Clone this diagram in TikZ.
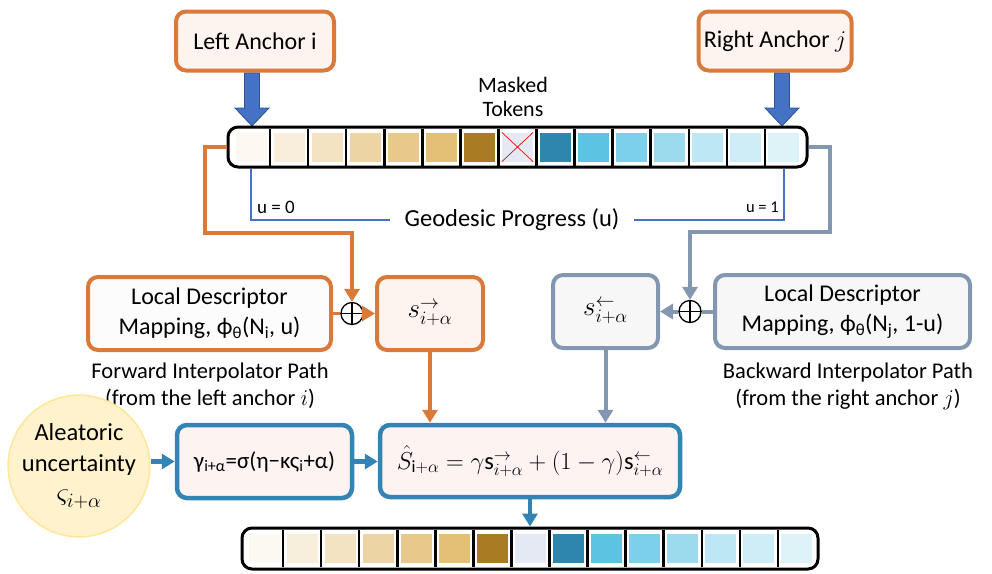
\documentclass[tikz,border=0pt]{standalone}
\usepackage{fix-cm}
\usepackage{fontspec}
\setmainfont{Carlito}
\usetikzlibrary{arrows.meta}
\definecolor{org}{HTML}{D9793A}
\definecolor{orgfill}{HTML}{FDF3EF}
\definecolor{gry}{HTML}{8497B0}
\definecolor{gryfill}{HTML}{F7F7F7}
\definecolor{tea}{HTML}{3284B4}
\definecolor{teafill}{HTML}{FDF4F2}
\definecolor{arrblue}{HTML}{4472C4}
\definecolor{arrblued}{HTML}{2F528F}
\definecolor{circfill}{HTML}{FFF2CC}
\definecolor{circline}{HTML}{FFE699}
\definecolor{thinblue}{HTML}{4472C4}
\begin{document}
\begin{tikzpicture}[x=1pt,y=-1pt,
  obox/.style={draw=org, line width=4pt, rounded corners=10pt, fill=orgfill, inner sep=0pt, align=center},
  gbox/.style={draw=gry, line width=4pt, rounded corners=10pt, fill=gryfill, inner sep=0pt, align=center},
  tbox/.style={draw=tea, line width=4.5pt, rounded corners=10pt, fill=teafill, inner sep=0pt, align=center},
  barbox/.style={draw=black, line width=3pt, rounded corners=10pt, inner sep=0pt},
  cell/.style={minimum width=31pt, minimum height=29pt, inner sep=0pt},
  sepline/.style={line width=2.5pt},
  plusnode/.style={circle, draw=black, fill=white, line width=1.3pt, minimum size=22pt, inner sep=0pt},
  tip/.style={-{Triangle[width=15pt,length=13pt]}},
  oline/.style={draw=org, line width=3.5pt},
  gline/.style={draw=gry, line width=4pt},
  tline/.style={draw=tea, line width=4.5pt},
  bline/.style={draw=thinblue, line width=2pt},
  pics/downarr/.style={code={\draw[draw=arrblued, fill=arrblue, line width=0.8pt]
     (-7.5,0) -- (-7.5,35) -- (-17,35) -- (0,53) -- (17,35) -- (7.5,35) -- (7.5,0) -- cycle;}}
]
\useasboundingbox (0,0) rectangle (992,573);

% anchors
\node[obox, font=\fontsize{24}{28}\selectfont, minimum width=158pt, minimum height=59pt] (la) at (255,41) {Left Anchor i};
\node[obox, font=\fontsize{24}{28}\selectfont, minimum width=153pt, minimum height=59pt] (ra) at (775,41) {Right Anchor $j$};
\pic at (252,73) {downarr};
\pic at (782,73) {downarr};

\node[align=center, font=\fontsize{22}{24}\selectfont] (mt) at (513,97) {Masked\\Tokens};

% top bar
\node[barbox, minimum width=579pt, minimum height=40pt] (topbar) at (517.5,147) {};
\foreach \c [count=\k from 0] in {FDF8F1,F8EEDB,F4E3C3,EDD4A4,E8C98B,E4BF76,A97B22,E4EAF4,2E85AE,5CC3E3,7DD0EB,9CDBEE,BDE7F4,CEEDF6,DEF3F8}{
  \definecolor{tmpc}{HTML}{\c}
  \node[cell, fill=tmpc] (t\k) at ({251+\k*38.07},147) {};
}
\foreach \k in {0,...,13}{
  \draw[sepline] ({251+(\k+0.5)*38.07},128.5) -- ({251+(\k+0.5)*38.07},165.5);
}
\draw[red, line width=0.7pt] (t7.north west) -- (t7.south east) (t7.north east) -- (t7.south west);

% geodesic progress
\node[font=\fontsize{24.5}{28}\selectfont, inner sep=14pt] (geo) at (512,220) {Geodesic Progress (u)};
\draw[bline] (t0.center |- topbar.south) -- (t0.center |- geo.west) -- (geo.west);
\draw[bline] (t14.center |- topbar.south) -- (t14.center |- geo.east) -- (geo.east);
\node[font=\fontsize{19}{22}\selectfont, anchor=west, inner sep=0pt] (u0) at (257,207) {u = 0};
\node[font=\fontsize{16.5}{20}\selectfont, anchor=east, inner sep=0pt] (u1) at (779,207) {u = 1};

% forward path
\node[obox, fill=white!98!gray, font=\fontsize{24}{30}\selectfont, minimum width=243pt, minimum height=73pt] (ld1) at (209.5,313.5) {Local Descriptor\\Mapping, ϕ\textsubscript{θ}(N\textsubscript{i}, u)};
\node[plusnode] (pf) at (352,313.5) {};
\draw[line width=1.3pt] (pf.north) -- (pf.south) (pf.west) -- (pf.east);
\node[obox, minimum width=106pt, minimum height=73pt, font=\fontsize{27}{30}\selectfont] (sf) at (430,313.5) {$s^{\rightarrow}_{i+\alpha}$};
\draw[oline] (ld1.east) -- (pf.west);
\draw[oline, tip] (pf.east) -- (sf.west);
\draw[oline, tip] (topbar.west) -- (205,147) -- (205,233) -- (pf.north |- 0,233) -- (pf.north);
\node[align=center, font=\fontsize{22.5}{27}\selectfont] (fwd) at (210,386) {Forward Interpolator Path\\(from the left anchor $i$)};

% backward path
\node[gbox, font=\fontsize{24}{30}\selectfont, minimum width=255pt, minimum height=73pt] (ld2) at (842.5,311.5) {Local Descriptor\\Mapping, ϕ\textsubscript{θ}(N\textsubscript{j}, 1-u)};
\node[plusnode] (pb) at (690,311.5) {};
\draw[line width=1.3pt] (pb.north) -- (pb.south) (pb.west) -- (pb.east);
\node[gbox, minimum width=105pt, minimum height=73pt, font=\fontsize{27}{30}\selectfont] (sb) at (605.5,311.5) {$s^{\leftarrow}_{i+\alpha}$};
\draw[gline] (ld2.west) -- (pb.east);
\draw[gline, tip] (pb.west) -- (sb.east);
\draw[gline, tip] (topbar.east) -- (830,147) -- (830,232) -- (pb.north |- 0,232) -- (pb.north);
\node[align=center, font=\fontsize{22.5}{27}\selectfont] (bwd) at (848,386) {Backward Interpolator Path\\(from the right anchor $j$)};

% bottom row
\node[circle, fill=circfill, draw=circline, line width=1.5pt, minimum size=132pt, inner sep=0pt, align=center, font=\fontsize{24.5}{31}\selectfont] (circ) at (79,466) {Aleatoric\\uncertainty\\{\fontsize{29}{31}\selectfont$\varsigma_{i+\alpha}$}};
\node[tbox, minimum width=175pt, minimum height=73pt, font=\fontsize{23}{28}\selectfont] (gam) at (264.5,461.5) {γ\textsubscript{i+α}=σ(η−κς\textsubscript{i}+α)};
\node[tbox, minimum width=300pt, minimum height=72pt, font=\fontsize{24.5}{28}\selectfont] (eq) at (530,461) {$\hat{S}_{\mathrm{i+\alpha}} = \gamma\mathrm{s}^{\rightarrow}_{i+\alpha} + (1-\gamma)\mathrm{s}^{\leftarrow}_{i+\alpha}$};
\draw[tline, tip] (gam.west -| circ.east) -- (gam.west);
\draw[tline, tip] (gam.east) -- (gam.east -| eq.west);
\draw[oline, tip] (sf.south) -- (sf.south |- eq.north);
\draw[gline, tip] (sb.south) -- (sb.south |- eq.north);

\node[barbox, minimum width=576pt, minimum height=41pt] (botbar) at (530,548.5) {};
\draw[tline, tip] (eq.south) -- (botbar.north);
\foreach \c [count=\k from 0] in {FCF8F2,F7EEDB,F3E3C3,EDD4A4,E8C98B,E4BF76,A97B22,E4E9F3,2E85AE,5CC3E3,7DD0EB,9CDBEE,BDE7F4,CEEDF6,DEF3F8}{
  \definecolor{tmpc}{HTML}{\c}
  \node[cell, fill=tmpc] (b\k) at ({264+\k*38.07},548.5) {};
}
\foreach \k in {0,...,13}{
  \draw[sepline] ({264+(\k+0.5)*38.07},530) -- ({264+(\k+0.5)*38.07},567);
}
\end{tikzpicture}
\end{document}
